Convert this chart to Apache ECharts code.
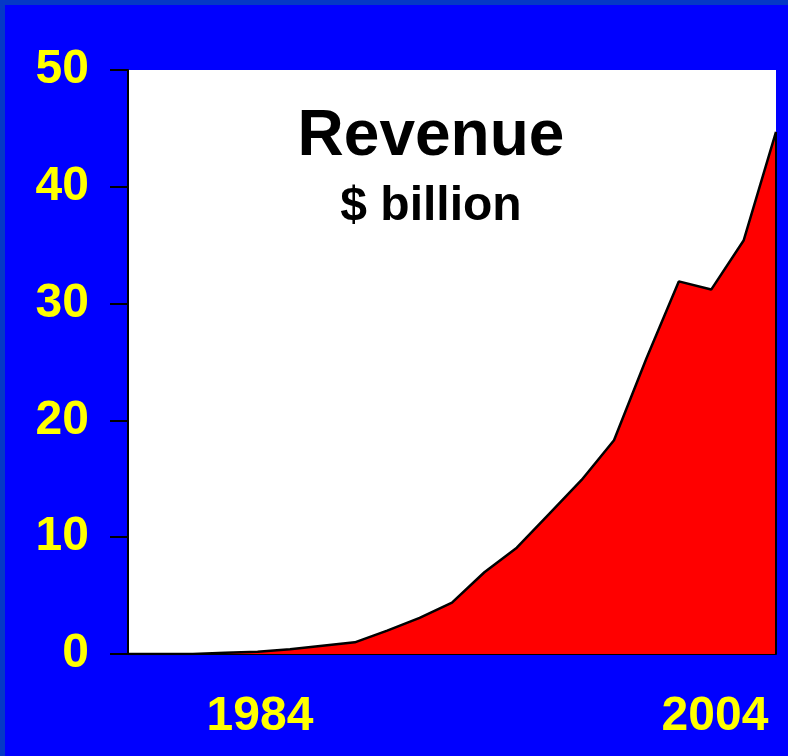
<!DOCTYPE html>
<html>
<head>
<meta charset="utf-8">
<script src="https://cdn.jsdelivr.net/npm/echarts@6/dist/echarts.min.js"></script>
<style>
  html, body { margin: 0; padding: 0; background: #0000ff; }
  #main { width: 788px; height: 756px; }
</style>
</head>
<body>
<div id="main"></div>
<script>
var dom = document.getElementById("main");
var myChart = echarts.init(dom);

// revenue, $ billion, one point per year
var years = [];
for (var y = 1984; y <= 2004; y++) years.push(String(y));
var revenue = [0, 0, 0, 0.1, 0.2, 0.4, 0.7, 1.0, 2.0, 3.1, 4.4, 7.0, 9.1, 12.0, 14.9, 18.3, 25.3, 31.9, 31.2, 35.4, 44.7];
var yTicks = [0, 10, 20, 30, 40, 50];

var font = 'Liberation Sans, Arial, sans-serif';
var lastIdx = years.length - 1;

option = {
    backgroundColor: '#0000ff',
    animation: false,
    title: {
        text: 'Revenue',
        subtext: '$ billion',
        left: 426,
        top: 100,
        textAlign: 'center',
        itemGap: 14,
        textStyle: { color: '#000', fontSize: 64, fontWeight: 'bold', fontFamily: font },
        subtextStyle: { color: '#000', fontSize: 48, fontWeight: 'bold', fontFamily: font }
    },
    graphic: [
        { type: 'rect', shape: { x: 0, y: 0, width: 788, height: 5 }, style: { fill: '#0438c6' }, z: 100 },
        { type: 'rect', shape: { x: 0, y: 0, width: 5, height: 756 }, style: { fill: '#0438c6' }, z: 100 }
    ],
    grid: {
        left: 128,
        right: 12,
        top: 70,
        bottom: 102,
        show: true,
        backgroundColor: '#fff',
        borderWidth: 0
    },
    xAxis: {
        type: 'category',
        data: years,
        boundaryGap: false,
        axisLine: { lineStyle: { color: '#000', width: 2 } },
        axisTick: { show: false },
        axisLabel: {
            interval: function (idx) { return idx === 0 || idx === lastIdx; },
            margin: 39,
            formatter: function (val, idx) {
                return idx === 0 ? '{a|' + val + '}' : '{b|' + val + '}';
            },
            rich: {
                a: { color: '#ffff00', fontSize: 48, fontWeight: 'bold', fontFamily: font, padding: [0, 0, 0, 264] },
                b: { color: '#ffff00', fontSize: 48, fontWeight: 'bold', fontFamily: font, padding: [0, 122, 0, 0] }
            }
        },
        splitLine: { show: false }
    },
    yAxis: {
        type: 'value',
        min: yTicks[0],
        max: yTicks[yTicks.length - 1],
        interval: 10,
        axisLine: { show: true, lineStyle: { color: '#000', width: 2 } },
        axisTick: { show: true, inside: false, length: 18, lineStyle: { color: '#000', width: 2 } },
        axisLabel: {
            margin: 39,
            color: '#ffff00',
            fontSize: 48,
            fontWeight: 'bold',
            fontFamily: font
        },
        splitLine: { show: false }
    },
    series: [{
        type: 'line',
        data: revenue,
        symbol: 'none',
        lineStyle: { color: '#000', width: 2.5 },
        areaStyle: { color: '#ff0000', opacity: 1 },
        markLine: {
            silent: true,
            symbol: 'none',
            label: { show: false },
            lineStyle: { color: '#000', width: 2, type: 'solid' },
            data: [[
                { coord: [lastIdx, 0] },
                { coord: [lastIdx, revenue[lastIdx]] }
            ]]
        }
    }]
};

if (option && typeof option === "object") {
    myChart.setOption(option, true);
}
</script>
</body>
</html>
